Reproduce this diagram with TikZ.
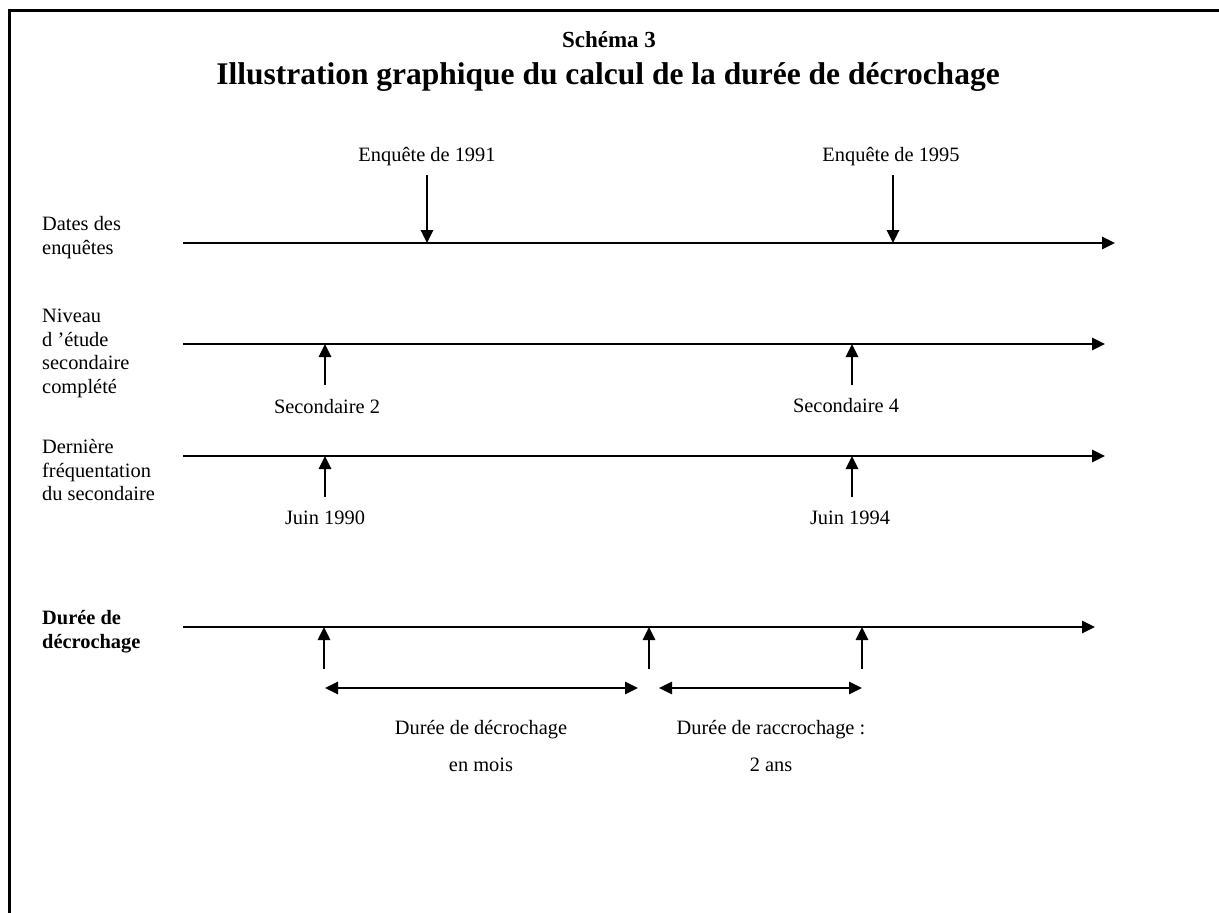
\documentclass[tikz,border=0pt]{standalone}
\usepackage{fontspec}
\setmainfont{Liberation Serif}
\usetikzlibrary{arrows.meta}
\tikzset{
  tip/.tip={Triangle[length=13pt,width=12.5pt]},
  timeline/.style={line width=1.6pt,-tip},
  marker/.style={line width=1.6pt,-tip},
  span/.style={line width=1.6pt,tip-tip},
  frame/.style={line width=3pt},
  txt/.style={inner sep=0pt,font=\fontsize{20.4}{23.8}\selectfont},
  rowlabel/.style={txt,anchor=north west,align=left},
  boldlabel/.style={rowlabel,font=\fontsize{20.4}{23.8}\selectfont\bfseries},
  caption/.style={txt,anchor=north,align=center},
  titleA/.style={inner sep=0pt,font=\fontsize{23}{27}\selectfont\bfseries},
  titleB/.style={inner sep=0pt,font=\fontsize{31.5}{36}\selectfont\bfseries}
}
\begin{document}
\begin{tikzpicture}[x=1pt,y=-1pt]
\useasboundingbox (0,0) rectangle (1219,913);
% frame (left and top sides)
\coordinate (fbl) at (9,913);
\coordinate (ftl) at (9,10);
\coordinate (ftr) at (1219,10);
\draw[frame] (fbl) -- (ftl) -- (ftr);

% titles
\node[titleA] (schema) at (609,40) {Schéma 3};
\node[titleB] (titre) at (608,77) {Illustration graphique du calcul de la durée de décrochage};

% row labels
\node[rowlabel] (lab1) at (42,216) {Dates des\\enquêtes};
\node[rowlabel] (lab2) at (42,308.5) {Niveau\\d ’étude\\secondaire\\complété};
\node[rowlabel] (lab3) at (42,439) {Dernière\\fréquentation\\du secondaire};
\node[boldlabel] (lab4) at (42,610) {Durée de\\décrochage};

% timelines
\coordinate (l1s) at (183,243); \coordinate (l1e) at (1115,243);
\coordinate (l2s) at (183,344); \coordinate (l2e) at (1105,344);
\coordinate (l3s) at (183,456); \coordinate (l3e) at (1105,456);
\coordinate (l4s) at (183,627); \coordinate (l4e) at (1095,627);
\draw[timeline] (l1s) -- (l1e);
\draw[timeline] (l2s) -- (l2e);
\draw[timeline] (l3s) -- (l3e);
\draw[timeline] (l4s) -- (l4e);

% row 1: surveys
\node[txt] (e91) at (427,157) {Enquête de 1991};
\node[txt] (e95) at (891,157) {Enquête de 1995};
\coordinate (e91a) at (427,175); \coordinate (e91b) at (427,243);
\coordinate (e95a) at (893,175); \coordinate (e95b) at (893,243);
\draw[marker] (e91a) -- (e91b);
\draw[marker] (e95a) -- (e95b);

% row 2: level
\coordinate (s2a) at (325,385); \coordinate (s2b) at (325,344);
\coordinate (s4a) at (852,385); \coordinate (s4b) at (852,344);
\draw[marker] (s2a) -- (s2b);
\draw[marker] (s4a) -- (s4b);
\node[txt] (sec2) at (327,407) {Secondaire 2};
\node[txt] (sec4) at (846,406) {Secondaire 4};

% row 3: last attendance
\coordinate (j90a) at (325,497); \coordinate (j90b) at (325,456);
\coordinate (j94a) at (852,497); \coordinate (j94b) at (852,456);
\draw[marker] (j90a) -- (j90b);
\draw[marker] (j94a) -- (j94b);
\node[txt] (juin90) at (325,518) {Juin 1990};
\node[txt] (juin94) at (850,518) {Juin 1994};

% row 4: duration
\coordinate (d1a) at (324,669); \coordinate (d1b) at (324,627);
\coordinate (d2a) at (649,669); \coordinate (d2b) at (649,627);
\coordinate (d3a) at (862,669); \coordinate (d3b) at (862,627);
\draw[marker] (d1a) -- (d1b);
\draw[marker] (d2a) -- (d2b);
\draw[marker] (d3a) -- (d3b);
\coordinate (sp1a) at (325,688); \coordinate (sp1b) at (638,688);
\coordinate (sp2a) at (659,688); \coordinate (sp2b) at (862,688);
\draw[span] (sp1a) -- (sp1b);
\draw[span] (sp2a) -- (sp2b);
\node[caption] (cap1) at (481,720) {Durée de décrochage\\[13.2pt]en mois};
\node[caption] (cap2) at (771,720) {Durée de raccrochage :\\[13.2pt]2 ans};
\end{tikzpicture}
\end{document}
